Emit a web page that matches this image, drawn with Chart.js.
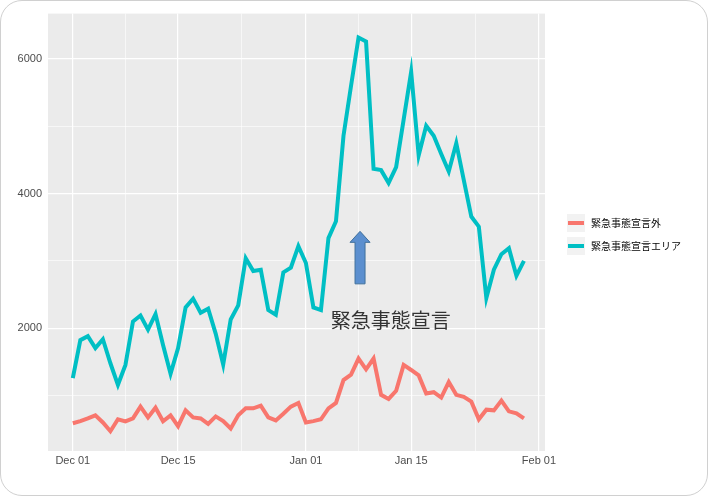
<!DOCTYPE html>
<html>
<head>
<meta charset="utf-8">
<script src="https://cdn.jsdelivr.net/npm/chart.js@4"></script>
<style>
  body { margin: 0; background: #fff; }
  #wrap { width: 706px; height: 494px; border: 1px solid #d0d0d0; border-radius: 22px; overflow: hidden; }
</style>
</head>
<body>
<div id="wrap"><canvas id="c" width="706" height="494"></canvas></div>
<script>
// day index 0 = Dec 01
const xTickDays = [0, 14, 31, 45, 62];
const xTickLabels = ['Dec 01', 'Dec 15', 'Jan 01', 'Jan 15', 'Feb 01'];
const seriesNames = ['緊急事態宣言外', '緊急事態宣言エリア'];

const outside = [588, 620, 660, 706, 600, 470, 647, 617, 660, 835, 675, 820, 617, 706, 545, 780,
  675, 660, 580, 690, 620, 510, 706, 810, 810, 850, 675, 630, 730, 835, 890,
  600, 620, 647, 810, 890, 1230, 1310, 1550, 1390, 1550, 1010, 950, 1070, 1455, 1380,
  1300, 1030, 1050, 970, 1200, 1010, 980, 910, 647, 790, 780, 925, 765, 735, 660];
const area = [1260, 1823, 1882, 1705, 1837, 1480, 1160, 1455, 2100, 2190, 1980, 2210, 1750, 1323, 1705, 2310,
  2440, 2230, 2290, 1920, 1460, 2130, 2340, 3040, 2850, 2870, 2270, 2200, 2830, 2900, 3220,
  2970, 2310, 2270, 3340, 3590, 4860, 5600, 6320, 6260, 4370, 4350, 4160, 4395, 5100, 5810,
  4570, 5010, 4860, 4590, 4330, 4750, 4200, 3660, 3510, 2450, 2870, 3100, 3190, 2780, 3000];

const red = '#F8766D', teal = '#00BFC4';
const toPts = (arr) => arr.map((v, i) => ({ x: i, y: v }));

const xMinor = [7, 22.5, 38, 53.5];

const bgPlugin = {
  id: 'bg',
  beforeDraw(chart) {
    const { ctx, chartArea: a } = chart;
    ctx.save();
    ctx.fillStyle = '#EBEBEB';
    ctx.fillRect(a.left, a.top, a.right - a.left, a.bottom - a.top);
    ctx.restore();
  },
  afterDraw(chart) {
    const { ctx, scales } = chart;
    const x = scales.x, y = scales.y;
    ctx.save();
    // arrow
    const ax = x.getPixelForValue(38.2);
    const yTop = y.getPixelForValue(3440), yBot = y.getPixelForValue(2660);
    ctx.fillStyle = '#5B8FCF';
    ctx.strokeStyle = '#41719C';
    ctx.lineWidth = 1;
    ctx.beginPath();
    ctx.moveTo(ax, yTop);
    ctx.lineTo(ax + 10, yTop + 11);
    ctx.lineTo(ax + 5, yTop + 11);
    ctx.lineTo(ax + 5, yBot);
    ctx.lineTo(ax - 5, yBot);
    ctx.lineTo(ax - 5, yTop + 11);
    ctx.lineTo(ax - 10, yTop + 11);
    ctx.closePath();
    ctx.fill();
    ctx.stroke();
    // label
    ctx.fillStyle = '#333';
    ctx.font = '20px "Noto Sans CJK JP"';
    ctx.textAlign = 'center';
    ctx.textBaseline = 'middle';
    ctx.fillText('緊急事態宣言', x.getPixelForValue(42.3), y.getPixelForValue(2120));
    // legend
    const lx = 566, ly = [222, 245];
    ctx.font = '10px "Noto Sans CJK JP"';
    ctx.textAlign = 'left';
    [red, teal].forEach((col, i) => {
      ctx.fillStyle = '#F2F2F2';
      ctx.fillRect(lx, ly[i] - 9, 18, 18);
      ctx.strokeStyle = col;
      ctx.lineWidth = 4;
      ctx.beginPath();
      ctx.moveTo(lx + 1, ly[i]);
      ctx.lineTo(lx + 17, ly[i]);
      ctx.stroke();
      ctx.fillStyle = '#000';
      ctx.fillText(seriesNames[i], lx + 24, ly[i]);
    });
    ctx.restore();
  }
};

new Chart(document.getElementById('c'), {
  type: 'line',
  data: {
    datasets: [
      { label: seriesNames[0], data: toPts(outside), borderColor: red, borderWidth: 4, pointRadius: 0, tension: 0 },
      { label: seriesNames[1], data: toPts(area), borderColor: teal, borderWidth: 4, pointRadius: 0, tension: 0 },
    ],
  },
  options: {
    responsive: false,
    animation: false,
    layout: { padding: { left: 0, right: 162, top: 10, bottom: 0 } },
    plugins: { legend: { display: false }, tooltip: { enabled: false } },
    scales: {
      x: {
        type: 'linear',
        min: -3.3,
        max: 62.8,
        afterBuildTicks(s) {
          s.ticks = xTickDays.concat(xMinor).map((v) => ({ value: v }));
        },
        afterFit(s) { s.height = 44; },
        ticks: {
          autoSkip: false,
          maxRotation: 0,
          color: '#4D4D4D',
          font: { size: 11, family: 'Liberation Sans' },
          callback: (v) => {
            const i = xTickDays.indexOf(v);
            return i >= 0 ? xTickLabels[i] : '';
          },
        },
        grid: {
          color: '#FFFFFF',
          lineWidth: (c) => (c.tick && xTickDays.includes(c.tick.value) ? 1.2 : 0.6),
          drawTicks: false,
        },
        border: { display: false },
      },
      y: {
        min: 176,
        max: 6676,
        afterBuildTicks(s) {
          s.ticks = [1000, 2000, 3000, 4000, 5000, 6000].map((v) => ({ value: v }));
        },
        afterFit(s) { s.width = 47; },
        ticks: {
          color: '#4D4D4D',
          padding: 6,
          font: { size: 11, family: 'Liberation Sans' },
          callback: (v) => (v % 2000 === 0 ? String(v) : ''),
        },
        grid: {
          color: '#FFFFFF',
          lineWidth: (c) => (c.tick && c.tick.value % 2000 === 0 ? 1.2 : 0.6),
          drawTicks: false,
        },
        border: { display: false },
      },
    },
  },
  plugins: [bgPlugin],
});
</script>
</body>
</html>
